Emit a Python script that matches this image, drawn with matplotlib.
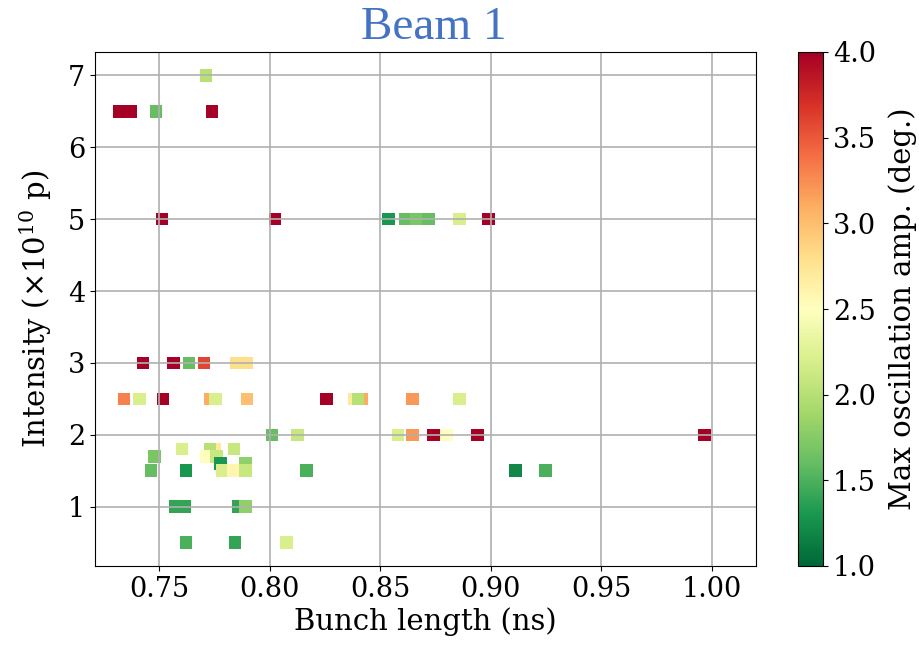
import matplotlib
matplotlib.use("Agg")
import matplotlib.pyplot as plt
import numpy as np

plt.rcParams['font.family'] = ['DejaVu Serif']
plt.rcParams['mathtext.fontset'] = 'dejavuserif'

# Bunch length (ns), intensity (1e10 p), max oscillation amplitude (deg.)
bunch_length = [
    0.7713,
    0.7320, 0.7370, 0.7486, 0.7740,
    0.7514, 0.8025, 0.8614, 0.8664, 0.8718, 0.8537, 0.8860, 0.8990,
    0.7428, 0.7564, 0.7636, 0.7704, 0.7850, 0.7894,
    0.7341, 0.7410, 0.7518, 0.7730, 0.7755, 0.7898, 0.8256, 0.8417, 0.8383, 0.8400, 0.8646, 0.8860,
    0.8010, 0.8125, 0.8580, 0.8646, 0.8740, 0.8800, 0.8940, 0.9968,
    0.7480, 0.7604, 0.7750, 0.7730, 0.7838, 0.7714, 0.7760, 0.7777,
    0.7464, 0.7622, 0.7787, 0.7835, 0.7890, 0.7890, 0.8166, 0.9112, 0.9248,
    0.7574, 0.7615, 0.7858, 0.7890,
    0.7622, 0.7844, 0.8075,
]
intensity = [
    7.0,
    6.5, 6.5, 6.5, 6.5,
    5.0, 5.0, 5.0, 5.0, 5.0, 5.0, 5.0, 5.0,
    3.0, 3.0, 3.0, 3.0, 3.0, 3.0,
    2.5, 2.5, 2.5, 2.5, 2.5, 2.5, 2.5, 2.5, 2.5, 2.5, 2.5, 2.5,
    2.0, 2.0, 2.0, 2.0, 2.0, 2.0, 2.0, 2.0,
    1.7, 1.8, 1.8, 1.8, 1.8, 1.7, 1.7, 1.6,
    1.5, 1.5, 1.5, 1.5, 1.6, 1.5, 1.5, 1.5, 1.5,
    1.0, 1.0, 1.0, 1.0,
    0.5, 0.5, 0.5,
]
amplitude = [
    2.0,
    4.2, 4.2, 1.6, 4.2,
    4.2, 4.2, 1.6, 1.7, 1.6, 1.3, 2.2, 4.2,
    4.2, 4.2, 1.6, 3.6, 2.8, 2.8,
    3.3, 2.2, 4.2, 3.1, 2.2, 3.0, 4.2, 3.1, 2.7, 2.0, 3.2, 2.2,
    1.6, 2.1, 2.2, 3.2, 4.2, 2.5, 4.2, 4.2,
    1.7, 2.2, 2.7, 2.0, 2.1, 2.5, 2.1, 1.3,
    1.6, 1.3, 2.2, 2.6, 1.8, 2.1, 1.5, 1.2, 1.5,
    1.4, 1.4, 1.4, 1.8,
    1.5, 1.4, 2.2,
]

x_ticks = [0.75, 0.80, 0.85, 0.90, 0.95, 1.00]
y_ticks = [1, 2, 3, 4, 5, 6, 7]
cbar_ticks = [1.0, 1.5, 2.0, 2.5, 3.0, 3.5, 4.0]

fig = plt.figure(figsize=(9.2, 6.48), dpi=100)
ax = fig.add_axes([95/920, 1-566/648, (756-95)/920, (566-52)/648])
cax = fig.add_axes([798/920, 1-566/648, 25/920, (566-52)/648])

sc = ax.scatter(bunch_length, intensity, c=amplitude, cmap='RdYlGn_r',
                vmin=1.0, vmax=4.0, marker='s', s=82, linewidths=0)
ax.grid(True, color='#b0b0b0', linewidth=1.2)
ax.set_xlim(0.721, 1.020)
ax.set_ylim(0.175, 7.325)
ax.set_xticks(x_ticks)
ax.set_xticklabels([f"{v:.2f}" for v in x_ticks])
ax.set_yticks(y_ticks)
ax.tick_params(labelsize=19.5)
ax.set_xlabel("Bunch length (ns)", fontsize=21, labelpad=3)
ax.set_ylabel(r"Intensity ($\times10^{10}$ p)", fontsize=21, labelpad=10)

cb = fig.colorbar(sc, cax=cax, ticks=cbar_ticks)
cb.ax.tick_params(labelsize=19.5)
cb.set_label("Max oscillation amp. (deg.)", fontsize=21, labelpad=9)

fig.text(434/920, 1-39/648, "Beam 1", color='#4472C4', fontsize=34,
         family='Liberation Serif', ha='center', va='baseline')

fig.savefig("out.png", dpi=100)
